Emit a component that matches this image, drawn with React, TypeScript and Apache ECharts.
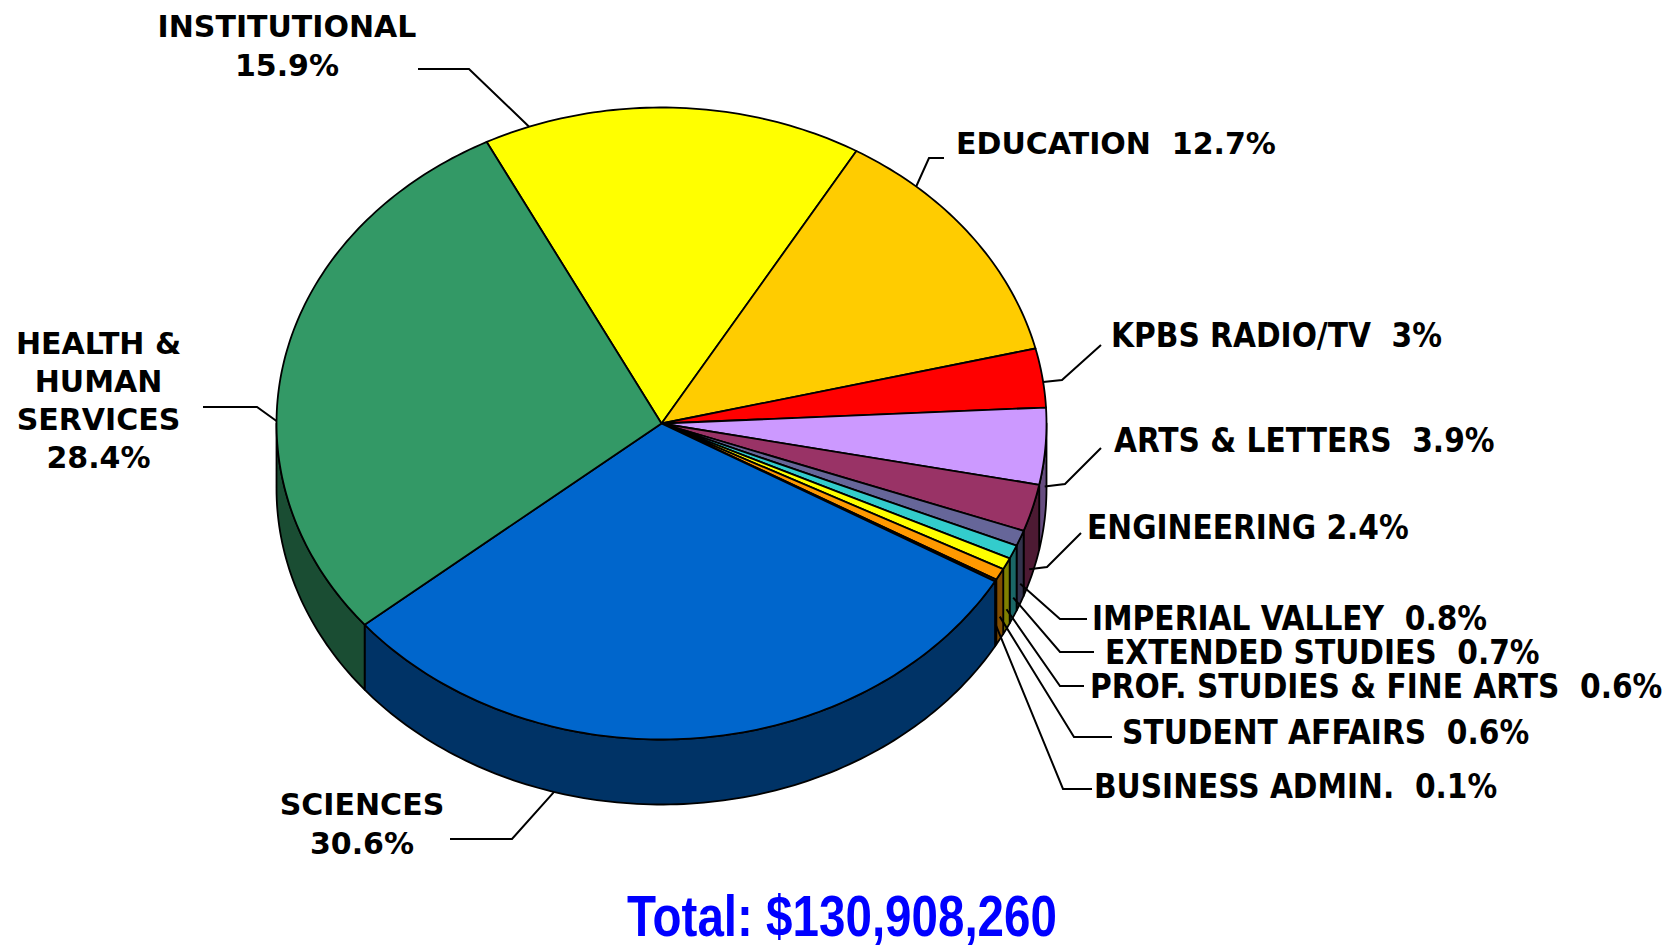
import React, { useEffect, useRef } from 'react';
import * as echarts from 'echarts';

// ---------- data ----------
const categories = [
  'INSTITUTIONAL',
  'EDUCATION',
  'KPBS RADIO/TV',
  'ARTS & LETTERS',
  'ENGINEERING',
  'IMPERIAL VALLEY',
  'EXTENDED STUDIES',
  'PROF. STUDIES & FINE ARTS',
  'STUDENT AFFAIRS',
  'BUSINESS ADMIN.',
  'SCIENCES',
  'HEALTH & HUMAN SERVICES',
];
const values = [15.9, 12.7, 3, 3.9, 2.4, 0.8, 0.7, 0.6, 0.6, 0.1, 30.6, 28.4];
const labelTexts = [
  'INSTITUTIONAL\n15.9%',
  'EDUCATION  12.7%',
  'KPBS RADIO/TV  3%',
  'ARTS & LETTERS  3.9%',
  'ENGINEERING 2.4%',
  'IMPERIAL VALLEY  0.8%',
  'EXTENDED STUDIES  0.7%',
  'PROF. STUDIES & FINE ARTS  0.6%',
  'STUDENT AFFAIRS  0.6%',
  'BUSINESS ADMIN.  0.1%',
  'SCIENCES\n30.6%',
  'HEALTH &\nHUMAN\nSERVICES\n28.4%',
];
const totalText = 'Total: $130,908,260';

// ---------- styles / layout ----------
const colors = [
  '#FFFF00', '#FFCC00', '#FF0000', '#CC99FF', '#993366', '#666699',
  '#33CCCC', '#FFFF00', '#FF9900', '#CC6600', '#0066CC', '#339966',
];
const GEOM = { cx: 661.5, cy: 423.5, rx: 385, ry: 316, depth: 65, start: -117 };

type LabelLayout = {
  f: number; // attach position along slice angle span
  w: number; // attach position down the wall (0 = top rim, 1 = bottom)
  pts: number[][];
  x: number;
  y: number;
  align: 'left' | 'center';
  narrow: boolean;
  lh?: number;
};
const labelLayout: LabelLayout[] = [
  { f: 0.12, w: 0, pts: [[469, 69], [418, 69]], x: 287, y: 46, align: 'center', narrow: false, lh: 39 },
  { f: 0.24, w: 0, pts: [[929, 158], [944, 158]], x: 956, y: 143.5, align: 'left', narrow: false },
  { f: 0.57, w: 0, pts: [[1062, 380], [1101, 345]], x: 1111, y: 335, align: 'left', narrow: true },
  { f: 0.6, w: 0.5, pts: [[1065, 484], [1101, 448]], x: 1114, y: 440, align: 'left', narrow: true },
  { f: 0.7, w: 0.8, pts: [[1047, 567], [1081, 533]], x: 1087, y: 527, align: 'left', narrow: true },
  { f: 0.5, w: 0.7, pts: [[1060, 619], [1087, 619]], x: 1092, y: 618, align: 'left', narrow: true },
  { f: 0.5, w: 0.7, pts: [[1060, 652], [1094, 652]], x: 1105, y: 652, align: 'left', narrow: true },
  { f: 0.5, w: 0.7, pts: [[1060, 686], [1084, 686]], x: 1090, y: 686, align: 'left', narrow: true },
  { f: 0.5, w: 0.65, pts: [[1074, 737], [1112, 737]], x: 1122, y: 732, align: 'left', narrow: true },
  { f: 0.5, w: 0.68, pts: [[1063, 789], [1092, 789]], x: 1094, y: 786, align: 'left', narrow: true },
  { f: 0.69, w: 1, pts: [[512, 839], [450, 839]], x: 362, y: 823.5, align: 'center', narrow: false, lh: 39 },
  { f: 0.39, w: 0, pts: [[257, 407], [203, 407]], x: 98.5, y: 400.5, align: 'center', narrow: false, lh: 38 },
];

function darken(hex: string, k: number): string {
  const n = parseInt(hex.slice(1), 16);
  const r = Math.round(((n >> 16) & 255) * k);
  const g = Math.round(((n >> 8) & 255) * k);
  const b = Math.round((n & 255) * k);
  return 'rgb(' + r + ',' + g + ',' + b + ')';
}

function pt(tDeg: number, drop: number): number[] {
  const t = (tDeg * Math.PI) / 180;
  return [GEOM.cx + GEOM.rx * Math.cos(t), GEOM.cy + GEOM.ry * Math.sin(t) + drop];
}

function arc(a0: number, a1: number, drop: number): number[][] {
  const n = Math.max(2, Math.ceil(Math.abs(a1 - a0) / 1) + 1);
  const out: number[][] = [];
  for (let k = 0; k < n; k++) out.push(pt(a0 + ((a1 - a0) * k) / (n - 1), drop));
  return out;
}

export default function App() {
  const ref = useRef<HTMLDivElement>(null);
  useEffect(() => {
    const chart = echarts.init(ref.current as HTMLDivElement, null, { renderer: 'svg' });
    const total = values.reduce((a, b) => a + b, 0);
    const cum: number[] = [];
    let s = 0;
    for (const v of values) {
      cum.push(s);
      s += v;
    }

    const renderItem = (params: any, api: any) => {
      const i = params.dataIndex;
      const v = api.value(0);
      const a0 = GEOM.start + (cum[i] / total) * 360;
      const a1 = a0 + (v / total) * 360;
      const color = colors[i];
      const children: any[] = [];
      // side wall (front half only)
      const lo = Math.max(a0, 0);
      const hi = Math.min(a1, 180);
      if (hi > lo) {
        const top = arc(lo, hi, 0);
        const bot = arc(hi, lo, GEOM.depth);
        children.push({
          type: 'polygon',
          z2: 1,
          shape: { points: top.concat(bot) },
          style: { fill: darken(color, 0.5), stroke: '#000', lineWidth: 1.8, lineJoin: 'round' },
        });
      }
      // top face
      children.push({
        type: 'polygon',
        z2: 2,
        shape: { points: [[GEOM.cx, GEOM.cy]].concat(arc(a0, a1, 0)) },
        style: { fill: color, stroke: '#000', lineWidth: 1.8, lineJoin: 'round' },
      });
      // leader line + label
      const L = labelLayout[i];
      const attach = pt(a0 + (a1 - a0) * L.f, GEOM.depth * L.w);
      children.push({
        type: 'polyline',
        z2: 10,
        shape: { points: [attach].concat(L.pts) },
        style: { stroke: '#000', lineWidth: 2, fill: null },
      });
      children.push({
        type: 'text',
        z2: 11,
        style: {
          text: labelTexts[i],
          x: L.x,
          y: L.y,
          fill: '#000',
          fontSize: L.narrow ? 33 : 30,
          fontFamily: L.narrow ? '"DejaVu Sans Condensed", "DejaVu Sans", sans-serif' : '"DejaVu Sans", Verdana, sans-serif',
          fontWeight: 'bold',
          align: L.align,
          verticalAlign: 'middle',
          lineHeight: L.lh || 31,
        },
      });
      return { type: 'group', children };
    };

    chart.setOption({
      animation: false,
      backgroundColor: '#ffffff',
      series: [
        {
          type: 'custom',
          coordinateSystem: 'none',
          silent: true,
          renderItem,
          data: values.map((v, i) => ({ name: categories[i], value: [v, i] })),
        },
      ],
      graphic: [
        {
          type: 'text',
          x: 842,
          y: 916,
          scaleX: 0.82,
          silent: true,
          style: {
            text: totalText,
            fill: '#0000FF',
            fontSize: 58,
            fontFamily: '"Liberation Sans", Arial, sans-serif',
            fontWeight: 'bold',
            align: 'center',
            verticalAlign: 'middle',
            shadowColor: 'rgba(110,110,110,0.85)',
            shadowOffsetX: 3,
            shadowOffsetY: 3,
            shadowBlur: 1,
          },
        },
      ],
    });
    return () => chart.dispose();
  }, []);
  return (
    <div
      ref={ref}
      style={{ position: 'fixed', left: 0, top: 0, width: 1679, height: 947, background: '#fff' }}
    />
  );
}
